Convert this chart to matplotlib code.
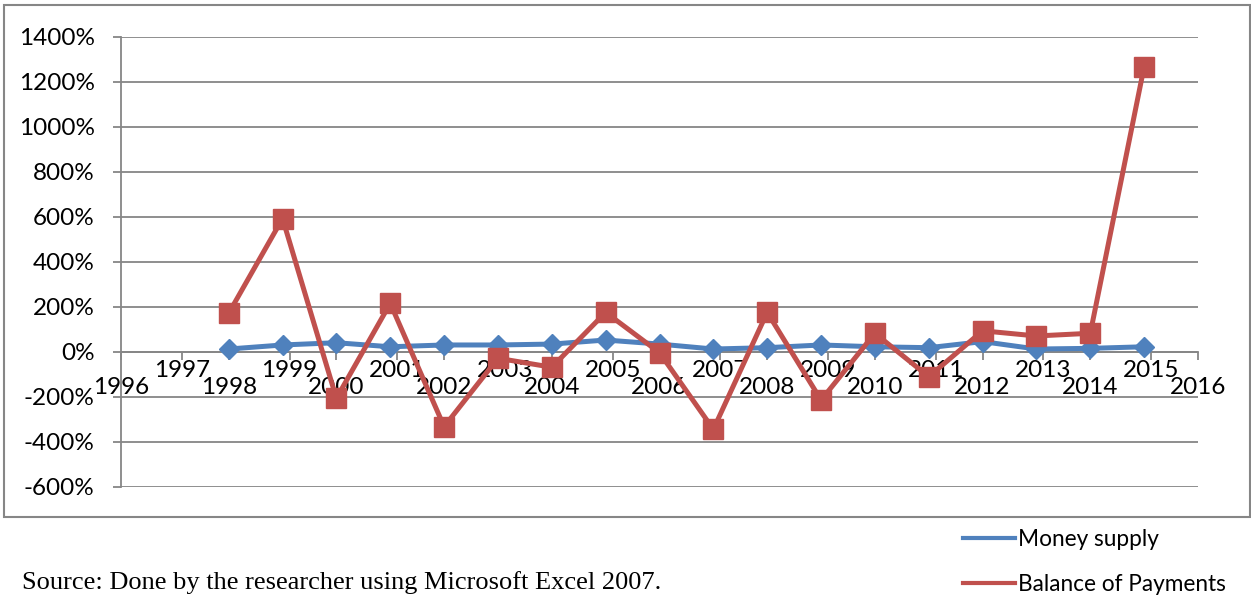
import matplotlib.pyplot as plt
import matplotlib.transforms as mtrans
from matplotlib.lines import Line2D
from matplotlib.patches import Rectangle

# data (percent)
years = [1998, 1999, 2000, 2001, 2002, 2003, 2004, 2005, 2006,
         2007, 2008, 2009, 2010, 2011, 2012, 2013, 2014, 2015]
money_supply = [11, 29, 39, 21, 29, 29, 33, 51, 33,
                11, 17, 29, 21, 17, 44, 11, 14, 21]
balance_of_payments = [170, 591, -208, 214, -334, -30, -70, 174, -5,
                       -346, 174, -216, 81, -112, 92, 69, 81, 1266]

axis_years = list(range(1996, 2017))
y_ticks = list(range(-600, 1401, 200))

blue = "#4F81BD"
red = "#C0504D"
grey = "#868686"
font = "Lato"

fig = plt.figure(figsize=(12.51, 5.96), dpi=100)
W, H = 1251, 596
ax = fig.add_axes([121 / W, 1 - 486.5 / H, (1198 - 121) / W, 450 / H])

ax.plot(years, money_supply, color=blue, lw=3.6, marker="D", ms=10,
        zorder=3, label="Money supply")
ax.plot(years, balance_of_payments, color=red, lw=3.6, marker="s", ms=14,
        zorder=4, label="Balance of Payments")

ax.set_xlim(1996, 2016)
ax.set_ylim(-600, 1400)

# y axis
ax.set_yticks(y_ticks)
ax.set_yticklabels([f"{v}%" for v in y_ticks], fontsize=17.5, family=font)
ax.yaxis.grid(True, color=grey, lw=1.3)
ax.set_axisbelow(True)
ax.tick_params(axis="y", length=6, width=1.3, color=grey, pad=13)

for s in ["top", "right"]:
    ax.spines[s].set_visible(False)
ax.spines["left"].set_color(grey)
ax.spines["left"].set_linewidth(1.3)
ax.spines["bottom"].set_position(("data", 0))
ax.spines["bottom"].set_color(grey)
ax.spines["bottom"].set_linewidth(1.3)

# x axis: staggered year labels like Excel does
tick_pos = [y + (0.13 if y % 2 else 0) for y in axis_years]
ax.set_xticks(tick_pos)
ax.set_xticklabels([])
ax.tick_params(axis="x", length=6, width=1.3, color=grey, direction="out")
for y, p in zip(axis_years, tick_pos):
    dy = -19 if y % 2 else -36
    tr = mtrans.offset_copy(ax.transData, fig=fig, x=0, y=dy, units="dots")
    ax.text(p, 0, str(y), transform=tr, ha="center", va="center",
            fontsize=17.5, family=font, clip_on=False)

# outer chart border
fig.patches.append(Rectangle((4 / W, 1 - 517 / H), 1246 / W, 512 / H,
                             transform=fig.transFigure, fill=False,
                             edgecolor=grey, lw=1.5))

handles = [Line2D([], [], color=blue, lw=3),
           Line2D([], [], color=red, lw=3)]
fig.legend(handles, ["Money supply", "Balance of Payments"],
           loc="upper left", bbox_to_anchor=(963 / W, 1 - 529 / H),
           frameon=False, borderpad=0, borderaxespad=0, handlelength=2.3,
           handletextpad=0.15, labelspacing=1.07,
           prop={"family": font, "size": 16.3})

fig.text(22 / W, 1 - 583 / H,
         "Source: Done by the researcher using Microsoft Excel 2007.",
         family="Liberation Serif", fontsize=19, va="center", ha="left")

fig.savefig("out.png", dpi=100)
